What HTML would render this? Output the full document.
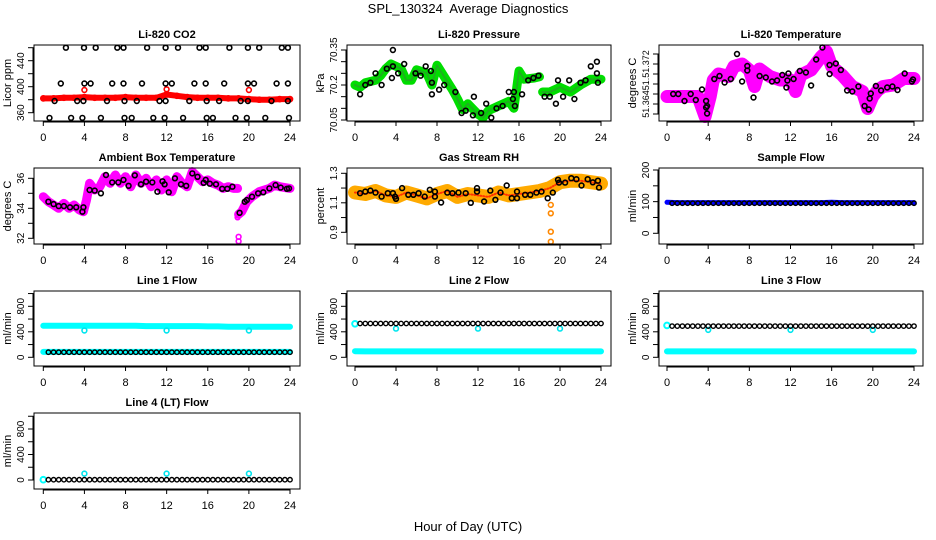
<!DOCTYPE html>
<html><head><meta charset="utf-8"><title>SPL_130324 Average Diagnostics</title>
<style>
html,body{margin:0;padding:0;background:#fff;}
svg{display:block;font-family:"Liberation Sans",Arial,sans-serif;}
</style></head>
<body>
<svg id="chart" width="936" height="540" viewBox="0 0 936 540" xmlns="http://www.w3.org/2000/svg">
<rect x="0" y="0" width="936" height="540" fill="#fff"/>
<text x="468" y="13" text-anchor="middle" font-size="13" xml:space="preserve">SPL_130324  Average Diagnostics</text>
<text x="468" y="531" text-anchor="middle" font-size="13">Hour of Day (UTC)</text>
</svg>
<script>
// ---------- shared categories ----------
const xTicks = [0,4,8,12,16,20,24];
const hours = [0,1,2,3,4,5,6,7,8,9,10,11,12,13,14,15,16,17,18,19,20,21,22,23,24];
const halfHours = [0.5,1,1.5,2,2.5,3,3.5,4,4.5,5,5.5,6,6.5,7,7.5,8,8.5,9,9.5,10,10.5,11,11.5,12,12.5,13,13.5,14,14.5,15,15.5,16,16.5,17,17.5,18,18.5,19,19.5,20,20.5,21,21.5,22,22.5,23,23.5,24];
const outlierHours = [4,12,20];

// ---------- CO2 ----------
const co2Ticks = [360,380,400,420,440,460];
const co2Labels = [360,400,440];
const co2Band = [382,382,383,383,384,383,383,383,384,383,383,383,388,386,384,383,383,383,382,382,381,380,380,381,381];
const co2RedOutliers = [395,396,395];
const co2BlackHours = [2.2,3.96,5.1,7.2,7.8,10.1,11.9,13.1,15.2,15.8,18.1,19.9,21.0,23.2,23.8, 1.7,4.0,4.6,6.7,7.8,9.6,11.9,12.5,14.7,15.8,17.6,19.9,20.5,22.7,23.8, 1.1,3.3,3.9,6.2,7.9,9.1,11.3,11.9,14.2,15.9,17.1,19.2,19.9,22.2,23.8, 0.6,2.7,3.8,5.6,7.9,8.6,10.7,11.8,13.6,15.9,16.5,18.7,19.8,21.6,23.9];
const co2BlackVals = [460,460,460,460,460,460,460,460,460,460,460,460,460,460,460, 405,405,405,405,405,405,405,405,405,405,405,405,405,405,405, 378,378,378,378,378,378,378,378,378,378,378,378,378,378,378, 352,352,352,352,352,352,352,352,352,352,352,352,352,352,352];

// ---------- Pressure ----------
const presTicks = [70.05,70.10,70.15,70.20,70.25,70.30,70.35];
const presLabels = [70.05,70.20,70.35];
const presBandHours = [0,0.5,1,2,2.5,3,3.5,4,4.5,5,5.5,6,7,7.5,8,8.5,9.5,10,10.5,11,12,12.5,13,14,15,15.5,16,16.5,17.5,18,null,18.3,19,20,21,22,23,24];
const presBandVals = [70.20,70.19,70.21,70.22,70.24,70.27,70.29,70.28,70.27,70.22,70.22,70.265,70.25,70.20,70.285,70.25,70.18,70.14,70.095,70.12,70.075,70.06,70.09,70.11,70.13,70.10,70.26,70.225,70.23,70.235,null,70.17,70.17,70.19,70.17,70.20,70.225,70.225];
const presBlackHours = [0.5,1.0,1.5,2.0,2.6,3.1,3.6,3.7,3.7,4.2,4.8,5.9,6.4,6.9,7.4,7.5,7.5,8.2,8.7,9.8,10.4,10.8,11.6,11.5,12.3,12.8,13.3,13.8,14.4,15.0,15.5,15.4,15.6,16.3,16.9,17.4,17.9,18.5,19.0,19.6,19.8,20.3,20.9,21.4,22.0,22.5,23.0,23.6,23.6,23.7];
const presBlackVals = [70.16,70.20,70.21,70.25,70.20,70.27,70.23,70.35,70.28,70.25,70.29,70.25,70.24,70.28,70.26,70.21,70.16,70.18,70.20,70.17,70.08,70.09,70.15,70.07,70.08,70.12,70.06,70.10,70.11,70.17,70.17,70.14,70.11,70.16,70.22,70.23,70.24,70.15,70.15,70.12,70.22,70.15,70.22,70.14,70.21,70.22,70.28,70.25,70.30,70.21];

// ---------- Li-820 temperature ----------
const tempTicks = [51.362,51.364,51.366,51.368,51.370,51.372,51.374];
const tempLabels = [51.364,51.368,51.372];
const tempLabelText = ["51.364","51.","51.372"];
const tempBandHours = [0,1,2,3,3.7,4.2,4.5,5,6,6.5,7.3,8,8.5,9,10,11,12,12.5,13,14,15,15.5,16,17,18,19,19.5,20,20.5,21,22,23,24];
const tempBandVals = [51.3655,51.3655,51.3655,51.3655,51.3615,51.3655,51.3688,51.3700,51.3695,51.3715,51.3720,51.3708,51.3675,51.3710,51.3695,51.3688,51.3688,51.3665,51.3698,51.3708,51.3735,51.3745,51.3715,51.3698,51.3675,51.3665,51.3631,51.3655,51.3668,51.3675,51.3678,51.3691,51.3691];
const tempBlackHours = [0.6,1.1,1.7,2.3,2.8,3.4,3.8,3.8,3.9,3.9,4.6,5.1,5.6,6.2,6.8,7.3,7.8,7.8,8.4,9.0,9.6,10.2,10.7,11.2,11.6,11.7,11.8,12.3,12.9,13.5,14.0,14.5,15.1,15.8,15.8,16.4,16.9,17.5,18.0,18.6,19.2,19.6,19.7,19.8,20.3,20.8,21.4,21.9,22.4,23.1,23.8,23.9];
const tempBlackVals = [51.3660,51.3660,51.3646,51.3660,51.3648,51.3669,51.3646,51.3633,51.3621,51.3636,51.3690,51.3696,51.3683,51.3690,51.3740,51.3685,51.3716,51.3707,51.3653,51.3696,51.3693,51.3685,51.3687,51.3698,51.3673,51.3687,51.3701,51.3690,51.3706,51.3703,51.3677,51.3729,51.3753,51.3718,51.3700,51.3721,51.3708,51.3667,51.3665,51.3675,51.3636,51.3629,51.3651,51.3661,51.3676,51.3667,51.3673,51.3675,51.3668,51.3701,51.3685,51.3689];

// ---------- Ambient box temperature ----------
const ambTicks = [32,33,34,35,36];
const ambLabels = [32,34,36];
const ambBandHours = [0,0.5,1,1.5,2,2.5,3,3.5,3.9,4.2,4.5,5,5.5,6,6.5,7,7.5,8,8.5,9,9.5,10,10.5,11,11.5,12,12.5,13,13.5,14,14.5,15,15.5,16,16.5,17,17.5,18,18.5,18.9,null,19.0,19.3,19.8,20.3,21,22,22.5,23,24];
const ambBandVals = [34.77,34.44,34.22,34.00,34.33,34.00,34.22,33.89,33.77,34.55,35.67,35.22,35.44,36.11,35.67,36.22,35.67,36.11,35.44,36.22,35.67,36.00,35.44,35.89,35.22,35.89,35.11,36.11,35.67,35.44,36.44,36.11,35.77,35.89,35.67,35.55,35.33,35.44,35.33,35.33,null,33.60,33.77,34.44,34.77,35.11,35.33,35.55,35.44,35.33];
const ambMagentaOutlierHours = [18.9,19.0,19.0];
const ambMagentaOutliers = [33.4,32.1,31.8];
const ambBlackHours = [0.5,1,1.5,2,2.6,3.2,3.8,3.9,4.5,5,5.6,6.1,6.7,7.3,7.8,8.3,8.9,9.5,10,10.6,11.1,11.6,11.8,12.2,12.8,13.4,13.9,14.5,15,15.6,15.8,16.2,16.8,17.4,17.9,18.4,19.1,19.6,19.8,20.3,20.9,21.4,22,22.6,23.1,23.7,23.9];
const ambBlackVals = [34.44,34.28,34.15,34.15,34.07,34.07,33.77,34.07,35.22,35.18,35.00,36.22,35.73,35.73,35.89,35.50,36.20,35.60,35.77,35.73,35.11,35.80,35.60,35.07,36.00,35.60,35.50,36.33,36.10,35.70,35.89,35.64,35.60,35.30,35.30,35.44,33.70,34.44,34.55,34.77,35.00,35.07,35.33,35.55,35.38,35.30,35.33];

// ---------- Gas stream RH ----------
const rhTicks = [0.9,1.0,1.1,1.2,1.3];
const rhLabels = [0.9,1.1,1.3];
const rhBand = [1.17,1.16,1.18,1.15,1.14,1.17,1.15,1.13,1.16,1.18,1.14,1.16,1.15,1.14,1.17,1.15,1.16,1.17,1.18,1.20,1.24,1.25,1.25,1.24,1.23];
const rhOutlierHours = [19.1,19.1,19.1,19.1];
const rhOutliers = [1.086,1.029,0.904,0.836];
const rhBlackHours = [0.5,1,1.5,2,2.6,3.2,3.7,3.9,4,4.6,5.2,5.7,6.2,6.8,7.3,7.8,7.8,8.4,9.0,9.5,10.1,10.8,11.3,11.9,11.9,12.6,13.2,13.7,14.2,14.8,15.3,15.8,15.8,16.6,17.1,17.7,18.2,18.8,19.3,19.8,19.9,20.5,21.1,21.6,22.1,22.7,23.2,23.7,23.8];
const rhBlackVals = [1.165,1.176,1.183,1.169,1.142,1.165,1.165,1.142,1.127,1.200,1.154,1.154,1.165,1.142,1.188,1.176,1.142,1.102,1.169,1.165,1.169,1.165,1.100,1.176,1.200,1.109,1.183,1.120,1.169,1.217,1.131,1.131,1.176,1.154,1.154,1.169,1.176,1.131,1.169,1.256,1.237,1.237,1.267,1.260,1.217,1.260,1.239,1.250,1.203];

// ---------- flows ----------
const sampleTicks = [0,50,100,150,200];
const sampleLabels = [0,100,200];
const flowTicks = [0,200,400,600,800,1000];
const flowLabels = [0,400,800];
const sampleBlue = [98,97,97,97,97,97,97,97,97,97,97,97,97,97,97,97,98,97,97,97,97,97,97,97,97];
const sampleBlack = [95,95,95,95,95,95,95,95,95,95,95,95,95,95,95,95,95,95,95,95,95,95,95,95,95,95,95,95,95,95,95,95,95,95,95,95,95,95,95,95,95,95,95,95,95,95,95,95];
const line1CyanHigh = [495,495,495,495,495,495,495,495,495,495,490,490,490,490,490,490,485,485,480,480,480,478,478,478,478];
const line1CyanLow = [85,85,85,85,85,85,85,85,85,85,85,85,85,85,85,85,85,85,85,85,85,85,85,85,85];
const line1CyanOutliers = [420,420,420];
const line1Black = [80,80,80,80,80,80,80,80,80,80,80,80,80,80,80,80,80,80,80,80,80,80,80,80,80,80,80,80,80,80,80,80,80,80,80,80,80,80,80,80,80,80,80,80,80,80,80,80];
const line2CyanStart = [525];
const line2CyanLow = [95,92,92,92,92,92,92,92,92,92,92,92,92,92,92,92,92,92,92,92,92,92,92,92,92];
const line2CyanOutliers = [450,450,450];
const line2Black = [530,530,530,530,530,530,530,530,530,530,530,530,530,530,530,530,530,530,530,530,530,530,530,530,530,530,530,530,530,530,530,530,530,530,530,530,530,530,530,530,530,530,530,530,530,530,530,530];
const line3CyanStart = [500];
const line3CyanLow = [92,92,92,92,92,92,92,92,92,92,92,92,92,92,92,92,92,92,92,92,92,92,92,92,92];
const line3CyanOutliers = [430,430,430];
const line3Black = [490,490,490,490,490,490,490,490,490,490,490,490,490,490,490,490,490,490,490,490,490,490,490,490,490,490,490,490,490,490,490,490,490,490,490,490,490,490,490,490,490,490,490,490,490,490,490,490];
const line4CyanStart = [5];
const line4CyanOutliers = [100,100,100];
const line4Black = [5,5,5,5,5,5,5,5,5,5,5,5,5,5,5,5,5,5,5,5,5,5,5,5,5,5,5,5,5,5,5,5,5,5,5,5,5,5,5,5,5,5,5,5,5,5,5,5];

// ---------- drawing ----------
const NS = "http://www.w3.org/2000/svg";
const svg = document.getElementById('chart');
const COLS = [{l:34,r:300,x0:43.3,x24:290},{l:347,r:611,x0:355,x24:601},{l:659,r:923,x0:667,x24:914}];
const ROWS = [{t:45,b:121},{t:168,b:244},{t:291,b:366},{t:413,b:489}];

function mk(parent, tag, attrs){
  const e = document.createElementNS(NS, tag);
  for (const k in attrs) e.setAttribute(k, attrs[k]);
  parent.appendChild(e);
  return e;
}

function panel(name, title, ylab, col, row, v1, p1, v2, p2, ticks, labels, labelText, lfs){
  const c = COLS[col], r = ROWS[row];
  const g = mk(svg, 'g', {});
  
  
  const xs = h => c.x0 + (c.x24 - c.x0) * h / 24;
  const ys = v => p1 + (v - v1) * (p2 - p1) / (v2 - v1);
  const marks = mk(g, 'g', {});
  
  
  const box = mk(g, 'rect', {x:c.l, y:r.t, width:c.r-c.l, height:r.b-r.t, fill:'none', stroke:'#000', 'stroke-width':1});
  
  
  const t = mk(g, 'text', {x:(c.l+c.r)/2, y:r.t-7, 'text-anchor':'middle', 'font-size':11, 'font-weight':'bold'});
  t.textContent = title;
  
  
  const xa = mk(g, 'g', {});
  
  
  const xl = mk(xa, 'line', {x1:xs(xTicks[0]), x2:xs(xTicks[xTicks.length-1]), y1:r.b+1, y2:r.b+1, stroke:'#000'});
  
  
  xTicks.forEach(h => {
    const tk = mk(xa, 'line', {x1:xs(h), x2:xs(h), y1:r.b, y2:r.b+5, stroke:'#000'});
    
    
    const lb = mk(xa, 'text', {x:xs(h), y:r.b+20, 'text-anchor':'middle', 'font-size':11});
    lb.textContent = String(h);
    
    
  });
  const ya = mk(g, 'g', {});
  
  
  const yl = mk(ya, 'line', {x1:c.l-1, x2:c.l-1, y1:ys(ticks[0]), y2:ys(ticks[ticks.length-1]), stroke:'#000'});
  
  
  ticks.forEach(v => {
    const tk = mk(ya, 'line', {x1:c.l-6, x2:c.l, y1:ys(v), y2:ys(v), stroke:'#000'});
    
    
  });
  labels.forEach((v, i) => {
    const y = ys(v), x = c.l - 10;
    const lb = mk(ya, 'text', {x:x, y:y, 'text-anchor':'middle', 'font-size':lfs||10, transform:'rotate(-90 '+x+' '+y+')'});
    lb.textContent = labelText ? labelText[i] : String(v);
    
    
  });
  const yt = mk(ya, 'text', {x:c.l-23, y:(r.t+r.b)/2, 'text-anchor':'middle', 'font-size':11, transform:'rotate(-90 '+(c.l-23)+' '+((r.t+r.b)/2)+')'});
  yt.textContent = ylab;
  
  
  return {xs, ys, marks};
}

function band(P, hs, vs, color, w, nm){
  let d = '', pen = false;
  for (let i = 0; i < hs.length; i++){
    if (hs[i] === null || vs[i] === null){ pen = false; continue; }
    d += (pen ? 'L' : 'M') + P.xs(hs[i]).toFixed(1) + ' ' + P.ys(vs[i]).toFixed(1) + ' ';
    pen = true;
  }
  const p = mk(P.marks, 'path', {d:d, fill:'none', stroke:color, 'stroke-width':w, 'stroke-linejoin':'round', 'stroke-linecap':'round'});
  
  
  return p;
}
function pts(P, hs, vs, color, nm, rad, sw){
  hs.forEach((h, i) => {
    if (h === null || vs[i] === null) return;
    const c = mk(P.marks, 'circle', {cx:P.xs(h).toFixed(1), cy:P.ys(vs[i]).toFixed(1), r:rad||2.4, fill:'none', stroke:color, 'stroke-width':sw||1.6});
    
    
  });
}

let P = panel('co2', 'Li-820 CO2', 'Licor ppm', 0, 0, 440, 60.7, 360, 112.7, co2Ticks, co2Labels);
band(P, hours, co2Band, '#ff0000', 6, 'co2-red-band');
pts(P, hours, co2Band, '#ff0000', 'co2-red-point', 2.6, 1.5);
pts(P, outlierHours, co2RedOutliers, '#ff0000', 'co2-red-outlier');
pts(P, co2BlackHours, co2BlackVals, '#000', 'co2-black-point');

P = panel('pressure', 'Li-820 Pressure', 'kPa', 1, 0, 70.35, 50, 70.05, 120, presTicks, presLabels);
band(P, presBandHours, presBandVals, '#00dd00', 9, 'pressure-green-band');
band(P, presBandHours, presBandVals, '#22aa22', 2, 'pressure-green-band-core').setAttribute('stroke-dasharray','1 2');
pts(P, presBlackHours, presBlackVals, '#000', 'pressure-black-point');

P = panel('li820-temp', 'Li-820 Temperature', 'degrees C', 2, 0, 51.374, 54, 51.362, 114, tempTicks, tempLabels, tempLabelText, 9);
band(P, tempBandHours, tempBandVals, '#ff00ff', 13, 'temp-magenta-band');
pts(P, tempBandHours, tempBandVals, '#ff00ff', 'temp-magenta-point', 3, 1.5);
pts(P, tempBlackHours, tempBlackVals, '#000', 'temp-black-point');

P = panel('ambient', 'Ambient Box Temperature', 'degrees C', 0, 1, 36, 178.3, 32, 238.3, ambTicks, ambLabels);
band(P, ambBandHours, ambBandVals, '#ff00ff', 9, 'ambient-magenta-band');
pts(P, ambMagentaOutlierHours, ambMagentaOutliers, '#ff00ff', 'ambient-magenta-outlier');
pts(P, ambBlackHours, ambBlackVals, '#000', 'ambient-black-point');

P = panel('rh', 'Gas Stream RH', 'percent', 1, 1, 1.3, 173.3, 0.9, 232.3, rhTicks, rhLabels);
band(P, hours, rhBand, '#ffaa00', 14, 'rh-orange-band');
band(P, hours, rhBand, '#ff3300', 2, 'rh-red-core').setAttribute('stroke-dasharray','1 2');
pts(P, rhOutlierHours, rhOutliers, '#ff8800', 'rh-outlier');
pts(P, rhBlackHours, rhBlackVals, '#000', 'rh-black-point');

P = panel('sample-flow', 'Sample Flow', 'ml/min', 2, 1, 200, 170, 0, 233.3, sampleTicks, sampleLabels);
band(P, hours, sampleBlue, '#0000ff', 5, 'sample-blue-band');
pts(P, halfHours, sampleBlack, '#000', 'sample-black-point', 2.2, 1.4);

P = panel('line1', 'Line 1 Flow', 'ml/min', 0, 2, 800, 306.3, 0, 357.3, flowTicks, flowLabels);
band(P, hours, line1CyanHigh, '#00ffff', 6, 'line1-cyan-high');
band(P, hours, line1CyanLow, '#00ffff', 6, 'line1-cyan-low');
pts(P, outlierHours, line1CyanOutliers, '#00e5ee', 'line1-cyan-outlier');
pts(P, halfHours, line1Black, '#000', 'line1-black-point', 2.2, 1.4);

P = panel('line2', 'Line 2 Flow', 'ml/min', 1, 2, 800, 306.3, 0, 357.3, flowTicks, flowLabels);
band(P, hours, line2CyanLow, '#00ffff', 6, 'line2-cyan-low');
pts(P, [0], line2CyanStart, '#00ffff', 'line2-cyan-start', 2.8, 2);
pts(P, outlierHours, line2CyanOutliers, '#00e5ee', 'line2-cyan-outlier');
pts(P, halfHours, line2Black, '#000', 'line2-black-point', 2.2, 1.4);

P = panel('line3', 'Line 3 Flow', 'ml/min', 2, 2, 800, 306.3, 0, 357.3, flowTicks, flowLabels);
band(P, hours, line3CyanLow, '#00ffff', 6, 'line3-cyan-low');
pts(P, [0], line3CyanStart, '#00ffff', 'line3-cyan-start', 2.8, 2);
pts(P, outlierHours, line3CyanOutliers, '#00e5ee', 'line3-cyan-outlier');
pts(P, halfHours, line3Black, '#000', 'line3-black-point', 2.2, 1.4);

P = panel('line4', 'Line 4 (LT) Flow', 'ml/min', 0, 3, 800, 429, 0, 480, flowTicks, flowLabels);
pts(P, [0], line4CyanStart, '#00ffff', 'line4-cyan-start', 2.8, 2);
pts(P, outlierHours, line4CyanOutliers, '#00e5ee', 'line4-cyan-outlier');
pts(P, halfHours, line4Black, '#000', 'line4-black-point', 2.2, 1.4);
</script>
</body></html>
